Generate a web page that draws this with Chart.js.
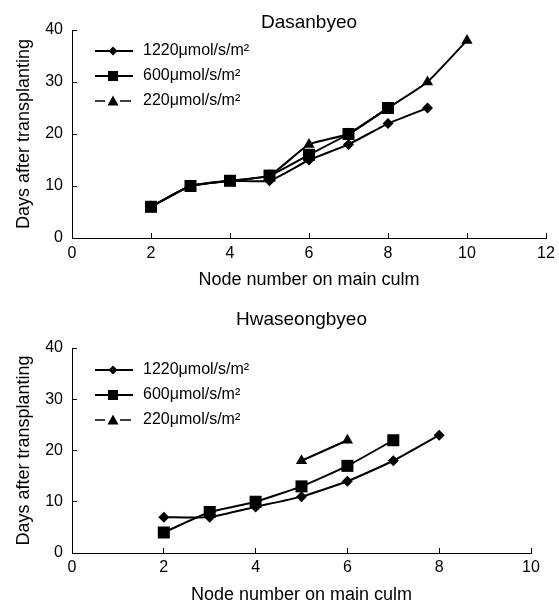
<!DOCTYPE html>
<html>
<head>
<meta charset="utf-8">
<script src="https://cdn.jsdelivr.net/npm/chart.js@4.4.1/dist/chart.umd.min.js"></script>
<style>
html, body { margin: 0; padding: 0; background: #fff; }
.wrap { position: absolute; left: 0; width: 559px; }
#wrap-top { top: 0; height: 300px; }
#wrap-bottom { top: 300px; height: 305px; }
</style>
</head>
<body>
<div class="wrap" id="wrap-top"><canvas id="chart-top"></canvas></div>
<div class="wrap" id="wrap-bottom"><canvas id="chart-bottom"></canvas></div>
<script>
const seriesLabels = ['1220\u03bcmol/s/m\u00b2', '600\u03bcmol/s/m\u00b2', '220\u03bcmol/s/m\u00b2'];

// Dasanbyeo
const dasanNodes1220 = [2, 3, 4, 5, 6, 7, 8, 9];
const dasanDays1220 = [6, 10, 11, 11, 15, 18, 22, 25];
const dasanNodes600 = [2, 3, 4, 5, 6, 7, 8];
const dasanDays600 = [6, 10, 11, 12, 16, 20, 25];
const dasanNodes220 = [2, 3, 4, 5, 6, 7, 8, 9, 10];
const dasanDays220 = [6, 10, 11, 12, 18, 20, 25, 30, 38];

// Hwaseongbyeo
const hwaNodes1220 = [2, 3, 4, 5, 6, 7, 8];
const hwaDays1220 = [7, 7, 9, 11, 14, 18, 23];
const hwaNodes600 = [2, 3, 4, 5, 6, 7];
const hwaDays600 = [4, 8, 10, 13, 17, 22];
const hwaNodes220 = [5, 6];
const hwaDays220 = [18, 22];

const FONT = "'Liberation Sans', Arial, sans-serif";
const markers = ['rectRot', 'rect', 'triangle'];
const markerRadius = [5.5, 8.5, 6.5];

const pairs = (xs, ys) => xs.map((x, i) => ({ x, y: ys[i] }));

// small canvas used as legend symbol: line + marker
function legendIcon(kind) {
    const c = document.createElement('canvas');
    c.width = 54;
    c.height = 16;
    const g = c.getContext('2d');
    g.strokeStyle = '#000';
    g.fillStyle = '#000';
    g.beginPath();
    if (kind === 2) {
        g.lineWidth = 1.5;
        g.moveTo(14, 8); g.lineTo(24, 8);
        g.moveTo(39, 8); g.lineTo(50, 8);
    } else {
        g.lineWidth = 2;
        g.moveTo(14, 8); g.lineTo(52, 8);
    }
    g.stroke();
    g.beginPath();
    if (kind === 0) {
        g.moveTo(32, 3.5); g.lineTo(36.5, 8); g.lineTo(32, 12.5); g.lineTo(27.5, 8);
    } else if (kind === 1) {
        g.rect(27, 3, 10, 10);
    } else {
        g.moveTo(32, 2.5); g.lineTo(37.5, 12.5); g.lineTo(26.5, 12.5);
    }
    g.closePath();
    g.fill();
    return c;
}
const legendIcons = [0, 1, 2].map(legendIcon);

function dataset(i, pts) {
    return {
        label: seriesLabels[i],
        data: pts,
        borderColor: '#000',
        backgroundColor: '#000',
        borderWidth: 2,
        pointStyle: markers[i],
        pointRadius: markerRadius[i],
        pointBackgroundColor: '#000',
        pointBorderWidth: 0,
        tension: 0.15,
    };
}

function makeChart(id, cfg) {
    const canvas = document.getElementById(id);
    return new Chart(canvas.getContext('2d'), {
        type: 'line',
        data: { datasets: cfg.datasets },
        options: {
            responsive: true,
            maintainAspectRatio: false,
            animation: false,
            layout: { padding: { left: 0, right: cfg.padRight, top: 0, bottom: 0 } },
            plugins: {
                tooltip: { enabled: false },
                title: {
                    display: true,
                    fullSize: false,
                    text: cfg.title,
                    color: '#000',
                    font: { family: FONT, size: 19, weight: 'normal', lineHeight: 1 },
                    padding: cfg.titlePad,
                },
                legend: {
                    position: 'chartArea',
                    align: 'start',
                    title: {
                        display: true,
                        text: '',
                        font: { size: 10, lineHeight: 1 },
                        padding: { top: cfg.legendTop, bottom: 0 },
                    },
                    labels: {
                        usePointStyle: true,
                        pointStyleWidth: 54,
                        padding: 9,
                        color: '#000',
                        font: { family: FONT, size: 16 },
                        generateLabels: (chart) => chart.data.datasets.map((ds, i) => ({
                            text: ds.label,
                            pointStyle: legendIcons[i],
                            datasetIndex: i,
                            hidden: false,
                            lineWidth: 0,
                            fillStyle: '#000',
                            strokeStyle: '#000',
                            fontColor: '#000',
                        })),
                    },
                },
            },
            scales: {
                x: {
                    type: 'linear',
                    min: 0,
                    max: cfg.xMax,
                    afterFit: (s) => {
                        s.height = cfg.xAxisHeight;
                        s.paddingLeft = 0;
                        s.paddingRight = 0;
                    },
                    ticks: { stepSize: 2, color: '#000', padding: cfg.xTickPad, font: { family: FONT, size: 16 } },
                    grid: { drawOnChartArea: false, tickLength: -5, color: '#000' },
                    border: { color: '#000', width: 1 },
                    title: {
                        display: true,
                        text: 'Node number on main culm',
                        color: '#000',
                        font: { family: FONT, size: 18, lineHeight: 1 },
                        padding: { top: 0, bottom: cfg.xTitlePad },
                    },
                },
                y: {
                    min: 0,
                    max: 40,
                    afterFit: (s) => { s.width = 72; },
                    ticks: { stepSize: 10, color: '#000', padding: 14, font: { family: FONT, size: 16 } },
                    grid: { drawOnChartArea: false, tickLength: -5, color: '#000' },
                    border: { color: '#000', width: 1 },
                    title: {
                        display: true,
                        text: 'Days after transplanting',
                        color: '#000',
                        font: { family: FONT, size: 18, lineHeight: 1 },
                        padding: { top: 15, bottom: 0 },
                    },
                },
            },
        },
    });
}

makeChart('chart-top', {
    title: 'Dasanbyeo',
    titlePad: { top: 13, bottom: -2 },
    xMax: 12,
    padRight: 13,
    xAxisHeight: 62,
    xTickPad: 11,
    xTitlePad: 11,
    legendTop: 24,
    datasets: [
        dataset(0, pairs(dasanNodes1220, dasanDays1220)),
        dataset(1, pairs(dasanNodes600, dasanDays600)),
        dataset(2, pairs(dasanNodes220, dasanDays220)),
    ],
});

makeChart('chart-bottom', {
    title: 'Hwaseongbyeo',
    titlePad: { top: 10, bottom: 19 },
    xMax: 10,
    padRight: 28,
    xAxisHeight: 52,
    xTickPad: 10,
    xTitlePad: 1,
    legendTop: 43,
    datasets: [
        dataset(0, pairs(hwaNodes1220, hwaDays1220)),
        dataset(1, pairs(hwaNodes600, hwaDays600)),
        dataset(2, pairs(hwaNodes220, hwaDays220)),
    ],
});
</script>
</body>
</html>
